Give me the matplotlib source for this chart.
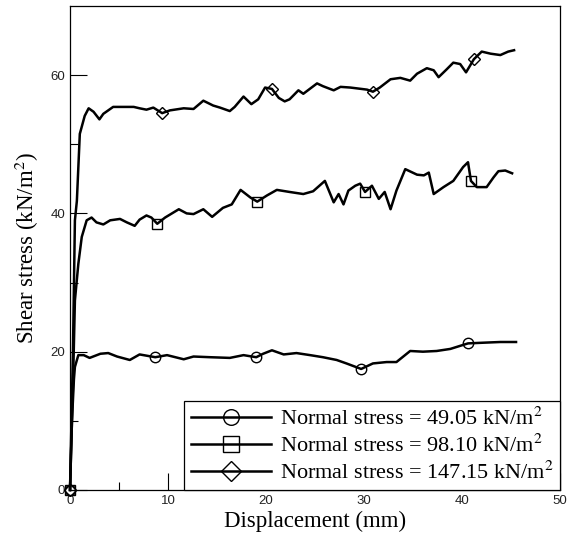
import numpy as np
import matplotlib.pyplot as plt

plt.rcParams["mathtext.fontset"] = "stix"

# circle series, normal stress 49.05
x1 = [0, 0.2, 0.4, 0.5, 0.85, 1.4, 2.0, 3.1, 3.9, 4.8, 6.1, 7.1, 8.7, 9.9, 11.6, 12.6,
      14.3, 16.3, 17.7, 19.0, 19.7, 20.6, 21.8, 23.1, 24.5, 25.8, 27.2, 28.2, 29.7,
      30.9, 32.3, 33.3, 34.7, 36.0, 37.4, 38.8, 40.6, 42.2, 43.9, 45.5]
y1 = [0, 10, 16, 17.8, 19.5, 19.5, 19.1, 19.7, 19.8, 19.3, 18.8, 19.6, 19.2, 19.5, 18.9, 19.3,
      19.2, 19.1, 19.5, 19.2, 19.7, 20.2, 19.6, 19.8, 19.5, 19.2, 18.8, 18.3, 17.5,
      18.3, 18.5, 18.5, 20.1, 20.0, 20.1, 20.4, 21.2, 21.3, 21.4, 21.4]
m1 = [0, 8.7, 19.0, 29.7, 40.6]

# square series, normal stress 98.10
x2 = [0, 0.3, 0.5, 0.85, 1.2, 1.7, 2.2, 2.7, 3.4, 4.1, 5.1, 5.8, 6.6, 7.1, 7.8, 8.3, 8.9,
      9.7, 11.1, 11.9, 12.6, 13.6, 14.5, 15.6, 16.5, 17.4, 18.4, 19.1, 20.1, 21.1,
      22.4, 23.8, 24.8, 26.0, 26.9, 27.4, 27.9, 28.4, 29.1, 29.6, 30.1, 30.8, 31.5,
      32.1, 32.7, 33.3, 34.2, 35.4, 36.1, 36.6, 37.1, 38.1, 39.1, 40.1, 40.6, 40.9,
      41.5, 42.5, 43.2, 43.7, 44.4, 45.1]
y2 = [0, 15, 27.4, 32.7, 36.6, 39.0, 39.4, 38.7, 38.4, 39.0, 39.2, 38.7, 38.2, 39.1, 39.7, 39.4, 38.5,
      39.4, 40.6, 40.0, 39.9, 40.6, 39.5, 40.8, 41.3, 43.4, 42.3, 41.7, 42.6, 43.4,
      43.1, 42.8, 43.2, 44.7, 41.6, 42.8, 41.3, 43.3, 44.0, 44.3, 43.1, 44.0, 42.1,
      43.1, 40.6, 43.3, 46.4, 45.6, 45.5, 45.9, 42.8, 43.8, 44.7, 46.7, 47.4, 44.7,
      43.8, 43.8, 45.2, 46.1, 46.2, 45.8]
m2 = [0, 8.9, 19.1, 30.1, 40.9]

# diamond series, normal stress 147.15
x3 = [0, 0.3, 0.5, 0.7, 1.0, 1.5, 1.9, 2.4, 3.0, 3.4, 4.4, 6.5, 7.1, 7.8, 8.5, 9.4, 10.2,
      11.6, 12.6, 13.6, 14.6, 15.3, 16.3, 16.8, 17.7, 18.5, 19.2, 19.9, 20.6, 21.3,
      21.9, 22.4, 23.3, 23.8, 25.2, 25.8, 26.9, 27.6, 28.6, 30.3, 30.9, 31.6, 32.7,
      33.7, 34.7, 35.4, 36.4, 37.1, 37.6, 38.4, 39.1, 39.8, 40.4, 41.2, 42.0, 42.9,
      43.9, 44.7, 45.3]
y3 = [0, 20, 39, 41.8, 51.5, 54.1, 55.2, 54.7, 53.6, 54.4, 55.4, 55.4, 55.2, 55.0, 55.3, 54.5, 54.9,
      55.2, 55.1, 56.3, 55.6, 55.3, 54.8, 55.4, 56.9, 55.8, 56.5, 58.2, 58.0, 56.7,
      56.2, 56.5, 57.8, 57.3, 58.8, 58.4, 57.8, 58.3, 58.2, 57.9, 57.6, 58.2, 59.4,
      59.6, 59.2, 60.2, 61.0, 60.7, 59.7, 60.8, 61.8, 61.6, 60.4, 62.3, 63.4, 63.1,
      62.9, 63.4, 63.6]
m3 = [0, 9.4, 20.6, 30.9, 41.2]

labels = [r"Normal stress = 49.05 kN/m$^{2}$",
          r"Normal stress = 98.10 kN/m$^{2}$",
          r"Normal stress = 147.15 kN/m$^{2}$"]

serif = "Liberation Serif"
sans = "Liberation Sans"

fig = plt.figure(figsize=(5.71, 5.42), dpi=100)
ax = fig.add_axes([0.1226, 0.096, 0.8584, 0.893])

for xs, ys, ms, mk, lab in [(x1, y1, m1, "o", labels[0]),
                            (x2, y2, m2, "s", labels[1]),
                            (x3, y3, m3, "D", labels[2])]:
    idx = [int(np.argmin(np.abs(np.array(xs) - m))) for m in ms]
    msize = 6.5 if mk == "D" else 7.5
    ax.plot(xs, ys, color="black", lw=1.8, marker=mk, markevery=idx,
            markersize=msize, markerfacecolor="none", markeredgecolor="black",
            markeredgewidth=1.0, label=lab, clip_on=False)

ax.set_xlim(0, 50)
ax.set_ylim(0, 70)
ax.set_xticks([0, 10, 20, 30, 40, 50])
ax.set_xticks([5, 15, 25, 35, 45], minor=True)
ax.set_yticks([0, 20, 40, 60])
ax.set_yticks([10, 30, 50], minor=True)
ax.tick_params(which="major", direction="in", length=12, width=0.8, labelsize=9.5,
               labelcolor="#222222", top=False, right=False)
ax.tick_params(which="minor", direction="in", length=6, width=0.8, top=False, right=False)
for lb in ax.get_xticklabels() + ax.get_yticklabels():
    lb.set_fontfamily(sans)
for s in ax.spines.values():
    s.set_linewidth(0.9)

ax.set_xlabel("Displacement (mm)", fontsize=16.5, family=serif, labelpad=3)
ax.set_ylabel(r"Shear stress (kN/m$^{2}$)", fontsize=16.5, family=serif, labelpad=7)

leg = ax.legend(loc="lower right", borderaxespad=0, fancybox=False, edgecolor="black",
                framealpha=1, prop={"family": serif, "size": 16}, handlelength=3.6,
                handletextpad=0.4, labelspacing=0.2, markerscale=1.5, borderpad=0.3)
leg.get_frame().set_linewidth(0.9)

fig.savefig("out.png", dpi=100)
